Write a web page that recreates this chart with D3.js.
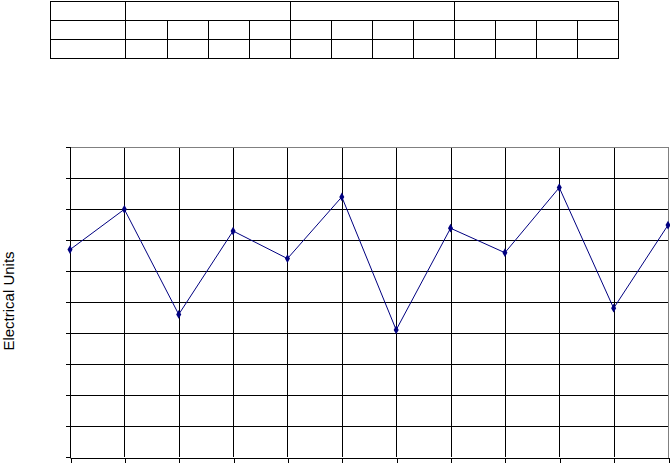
<!DOCTYPE html>
<html>
<head>
<meta charset="utf-8">
<script src="https://cdn.jsdelivr.net/npm/d3@7"></script>
<style>
  body { margin: 0; background: #fff; }
  svg { display: block; }
</style>
</head>
<body>
<svg id="chart"></svg>
<script>
// readings, one per sample (table cells in the sheet are empty)
const samples = ['1', '2', '3', '4', '5', '6', '7', '8', '9', '10', '11', '12'];
const readings = [6.69, 7.99, 4.60, 7.29, 6.40, 8.39, 4.10, 7.38, 6.59, 8.69, 4.80, 7.48];
const groupHeaders = ['', '', ''];
const tableRows = [
  ['', '', '', '', '', '', '', '', '', '', '', ''],
  ['', '', '', '', '', '', '', '', '', '', '', '']
];
const yTicks = [0, 1, 2, 3, 4, 5, 6, 7, 8, 9, 10];
const yLabel = 'Electrical Units';

const width = 670;
const height = 463;

const svg = d3.select('#chart')
  .attr('width', width)
  .attr('height', height);

// ---- table on top ----
const table = { left: 50.5, firstCol: 126, right: 618.5, rowY: [1.5, 20.5, 39.5, 58.5] };

const cellX = d3.scaleBand()
  .domain(d3.range(12))
  .range([table.firstCol, table.right])
  .paddingInner(0)
  .paddingOuter(0);

const groupX = d3.scaleBand()
  .domain(d3.range(groupHeaders.length))
  .range([table.firstCol, table.right]);

const tbl = svg.append('g')
  .attr('fill', 'none')
  .attr('stroke', '#000')
  .attr('stroke-width', 1)
  .attr('shape-rendering', 'crispEdges');

// outer box
tbl.append('rect')
  .attr('x', table.left)
  .attr('y', table.rowY[0])
  .attr('width', table.right - table.left)
  .attr('height', table.rowY[3] - table.rowY[0]);

// row separators
tbl.selectAll('line.row')
  .data([table.rowY[1], table.rowY[2]])
  .join('line')
  .attr('x1', table.left).attr('x2', table.right)
  .attr('y1', d => d).attr('y2', d => d);

// first column divider
tbl.append('line')
  .attr('x1', table.firstCol - 0.5).attr('x2', table.firstCol - 0.5)
  .attr('y1', table.rowY[0]).attr('y2', table.rowY[3]);

// group dividers in header row
tbl.selectAll('line.group')
  .data(groupHeaders.slice(1).map((_, i) => i + 1))
  .join('line')
  .attr('x1', d => Math.round(groupX(d)) + 0.5)
  .attr('x2', d => Math.round(groupX(d)) + 0.5)
  .attr('y1', table.rowY[0]).attr('y2', table.rowY[1]);

// cell dividers in lower rows
tbl.selectAll('line.cell')
  .data(tableRows[0].slice(1).map((_, i) => i + 1))
  .join('line')
  .attr('x1', d => Math.round(cellX(d)) + 0.5)
  .attr('x2', d => Math.round(cellX(d)) + 0.5)
  .attr('y1', table.rowY[1]).attr('y2', table.rowY[3]);

// ---- line chart ----
const plot = { left: 70, right: 668, top: 147, bottom: 457 };

const xScale = d3.scalePoint()
  .domain(samples)
  .range([plot.left, plot.right]);

const yScale = d3.scaleLinear()
  .domain([0, 10])
  .range([plot.bottom, plot.top]);

const grid = svg.append('g')
  .attr('stroke', '#000')
  .attr('stroke-width', 1)
  .attr('shape-rendering', 'crispEdges');

// horizontal gridlines
grid.selectAll('line.h')
  .data(yTicks.filter(d => d > 0 && d < 10))
  .join('line')
  .attr('x1', plot.left).attr('x2', plot.right)
  .attr('y1', d => Math.round(yScale(d)) + 0.5)
  .attr('y2', d => Math.round(yScale(d)) + 0.5);

// vertical gridlines
grid.selectAll('line.v')
  .data(samples.slice(1, -1))
  .join('line')
  .attr('x1', d => Math.round(xScale(d)) + 0.5)
  .attr('x2', d => Math.round(xScale(d)) + 0.5)
  .attr('y1', plot.top).attr('y2', plot.bottom);

// plot border (grey top / right / bottom)
svg.append('path')
  .attr('fill', 'none')
  .attr('stroke', '#808080')
  .attr('shape-rendering', 'crispEdges')
  .attr('d', `M${plot.left},${plot.top + 0.5}H${plot.right + 0.5}V${plot.bottom + 1.5}H${plot.left}`);

// y axis
svg.append('g')
  .attr('transform', `translate(${plot.left + 0.5},0)`)
  .attr('shape-rendering', 'crispEdges')
  .call(d3.axisLeft(yScale).tickValues(yTicks).tickSize(5).tickFormat(''))
  .call(g => g.selectAll('line, path').attr('stroke', '#000'))
  .call(g => g.select('.domain').attr('d', `M-5,${plot.top + 0.5}H0V${plot.bottom + 0.5}H-5`));

// x axis
svg.append('g')
  .attr('transform', `translate(0.5,${plot.bottom + 0.5})`)
  .attr('shape-rendering', 'crispEdges')
  .call(d3.axisBottom(xScale).tickSize(5).tickSizeOuter(0).tickFormat(''))
  .call(g => g.selectAll('line, path').attr('stroke', '#000'));

// y label
svg.append('text')
  .attr('transform', `translate(13.5,${(plot.top + plot.bottom) / 2 - 1}) rotate(-90)`)
  .attr('text-anchor', 'middle')
  .attr('font-family', 'Liberation Sans, Arial, sans-serif')
  .attr('font-size', 15)
  .attr('fill', '#000')
  .text(yLabel);

// the series
const lineGenerator = d3.line()
  .x((d, i) => xScale(samples[i]))
  .y(d => yScale(d));

svg.append('path')
  .datum(readings)
  .attr('fill', 'none')
  .attr('stroke', '#000080')
  .attr('stroke-width', 1)
  .attr('d', lineGenerator);

svg.append('g')
  .selectAll('path')
  .data(readings)
  .join('path')
  .attr('transform', (d, i) => `translate(${xScale(samples[i])},${yScale(d)})`)
  .attr('d', d3.symbol(d3.symbolDiamond, 22))
  .attr('fill', '#000080');
</script>
</body>
</html>
